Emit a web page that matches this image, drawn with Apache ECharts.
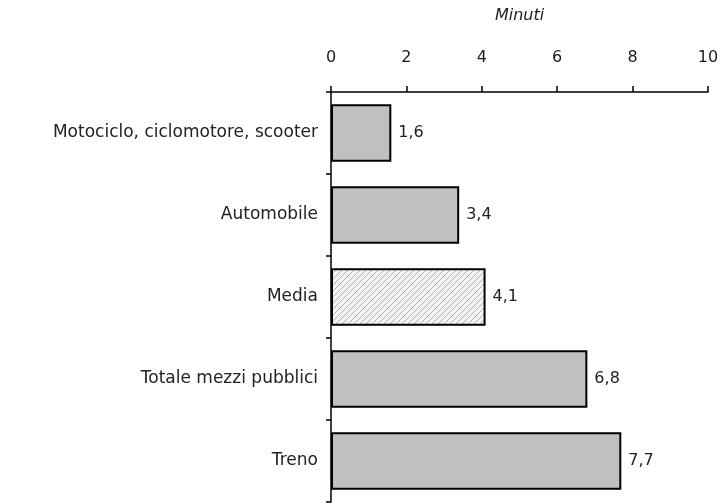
<!DOCTYPE html>
<html>
<head>
<meta charset="utf-8">
<script src="https://cdn.jsdelivr.net/npm/echarts@6/dist/echarts.min.js"></script>
<style>html,body{margin:0;padding:0;background:#fff;}#c{width:726px;height:503px;}</style>
</head>
<body>
<div id="c"></div>
<script>
var categories = ['Motociclo, ciclomotore, scooter', 'Automobile', 'Media', 'Totale mezzi pubblici', 'Treno'];
var values = [1.6, 3.4, 4.1, 6.8, 7.7];
var hatchedCategory = 'Media';
var axisName = 'Minuti';

function makeHatch() {
  var s = 6;
  var cv = document.createElement('canvas');
  cv.width = s; cv.height = s;
  var ctx = cv.getContext('2d');
  ctx.fillStyle = '#f4f4f4';
  ctx.fillRect(0, 0, s, s);
  ctx.strokeStyle = '#b0b0b0';
  ctx.lineWidth = 1;
  ctx.beginPath();
  ctx.moveTo(0, s); ctx.lineTo(s, 0);
  ctx.moveTo(-1, 1); ctx.lineTo(1, -1);
  ctx.moveTo(s - 1, s + 1); ctx.lineTo(s + 1, s - 1);
  ctx.stroke();
  return cv;
}
var hatch = makeHatch();

var seriesData = values.map(function (v, i) {
  var d = { value: v };
  if (categories[i] === hatchedCategory) {
    d.itemStyle = { color: { image: hatch, repeat: 'repeat' } };
  }
  return d;
});

var font = 'DejaVu Sans';
var chart = echarts.init(document.getElementById('c'), null, { renderer: 'canvas' });
chart.setOption({
  animation: false,
  backgroundColor: '#ffffff',
  grid: { left: 331, right: 18, top: 92, bottom: 1, containLabel: false },
  xAxis: {
    type: 'value',
    position: 'top',
    min: 0, max: 10, interval: 2,
    name: axisName,
    nameLocation: 'middle',
    nameGap: 68,
    nameTextStyle: { fontFamily: font, fontSize: 16, fontStyle: 'italic', color: '#222' },
    axisLine: { show: true, lineStyle: { color: '#000', width: 1.5 } },
    axisTick: { show: true, length: 6, lineStyle: { color: '#000', width: 1.5 } },
    axisLabel: { margin: 26, fontFamily: font, fontSize: 16, color: '#1a1a1a' },
    splitLine: { show: false }
  },
  yAxis: {
    type: 'category',
    inverse: true,
    data: categories,
    axisLine: { show: true, lineStyle: { color: '#000', width: 1.5 } },
    axisTick: { show: true, length: 5, lineStyle: { color: '#000', width: 1.5 } },
    axisLabel: { margin: 13, fontFamily: font, fontSize: 17, color: '#222' }
  },
  series: [{
    type: 'bar',
    data: seriesData,
    barCategoryGap: '30%',
    itemStyle: { color: '#c0c0c0', borderColor: '#000', borderWidth: 2 },
    label: {
      show: true,
      position: 'right',
      distance: 7,
      fontFamily: font,
      fontSize: 16,
      color: '#222',
      formatter: function (p) { return p.value.toFixed(1).replace('.', ','); }
    }
  }]
});
</script>
</body>
</html>
